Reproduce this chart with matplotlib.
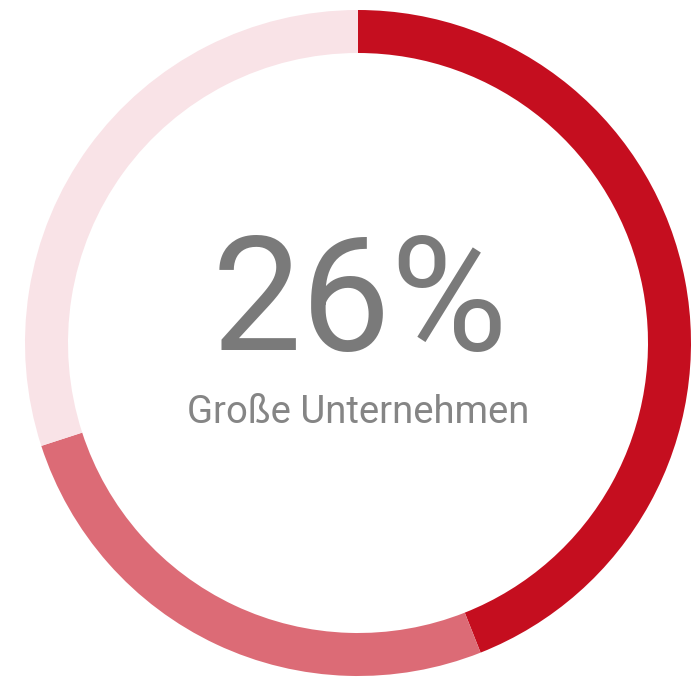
import matplotlib
matplotlib.use('Agg')
import matplotlib.pyplot as plt

labels = ['Große Unternehmen', 'Mittlere', 'Rest']
values = [44, 26, 30]
colors = ['#C50E1F', '#DC6B76', '#F9E3E7']
big_label = '26%'
sub_label = 'Große Unternehmen'

fig = plt.figure(figsize=(6.92, 6.77), dpi=100)
ax = fig.add_axes([0, 0, 1, 1])

ax.pie(values, colors=colors, startangle=90, counterclock=False,
       radius=333, center=(358, 334),
       wedgeprops=dict(width=43, linewidth=0))
ax.set_xlim(0, 692)
ax.set_ylim(0, 677)
ax.set_aspect('equal')
ax.axis('off')

ax.text(360, 327, big_label, ha='center', va='baseline', fontsize=115,
        family='Roboto', fontweight='normal', color='#7a7a7a')
ax.text(358, 254, sub_label, ha='center', va='baseline', fontsize=27.5,
        family='Roboto', fontweight='normal', color='#858585')

fig.savefig('out.png', dpi=100)
